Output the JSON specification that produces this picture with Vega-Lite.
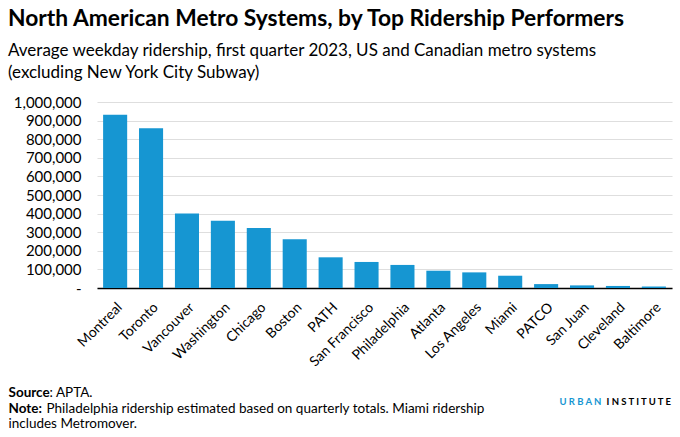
{
  "$schema": "https://vega.github.io/schema/vega-lite/v6.json",
  "padding": {"left": 8, "top": 8, "right": 8, "bottom": 4},
  "background": "white",
  "config": {
    "font": "Lato",
    "view": {"stroke": null},
    "title": {"font": "Lato", "subtitleFont": "Lato"}
  },
  "title": {
    "text": "North American Metro Systems, by Top Ridership Performers",
    "subtitle": ["Average weekday ridership, first quarter 2023, US and Canadian metro systems", "(excluding New York City Subway)"],
    "anchor": "start",
    "fontSize": 22.8,
    "fontWeight": "bold",
    "color": "#000000",
    "subtitleFontSize": 17,
    "subtitleColor": "#000000",
    "subtitleLineHeight": 22,
    "subtitlePadding": 12,
    "offset": 14
  },
  "vconcat": [
    {
      "width": 575,
      "height": 186,
      "data": {"values": [
        {"system": "Montreal", "ridership": 932000},
        {"system": "Toronto", "ridership": 859000},
        {"system": "Vancouver", "ridership": 401000},
        {"system": "Washington", "ridership": 362000},
        {"system": "Chicago", "ridership": 323000},
        {"system": "Boston", "ridership": 262000},
        {"system": "PATH", "ridership": 165000},
        {"system": "San Francisco", "ridership": 140000},
        {"system": "Philadelphia", "ridership": 124000},
        {"system": "Atlanta", "ridership": 93000},
        {"system": "Los Angeles", "ridership": 84000},
        {"system": "Miami", "ridership": 66000},
        {"system": "PATCO", "ridership": 21000},
        {"system": "San Juan", "ridership": 14000},
        {"system": "Cleveland", "ridership": 11000},
        {"system": "Baltimore", "ridership": 8000}
      ]},
      "mark": {"type": "bar", "color": "#1696d2"},
      "encoding": {
        "x": {
          "field": "system", "type": "nominal", "sort": null, "title": null,
          "scale": {"paddingInner": 0.33, "paddingOuter": 0.17},
          "axis": {"labelAngle": -45, "labelFontSize": 14, "labelColor": "#000000", "ticks": false, "domainColor": "#000000", "domainWidth": 1.5, "labelPadding": 12}
        },
        "y": {
          "field": "ridership", "type": "quantitative", "title": null,
          "scale": {"domain": [0, 1000000]},
          "axis": {"values": [0,100000,200000,300000,400000,500000,600000,700000,800000,900000,1000000], "labelExpr": "datum.value === 0 ? '-' : format(datum.value, ',')", "labelFontSize": 15, "labelColor": "#000000", "ticks": false, "domain": false, "gridColor": "#dedede", "gridWidth": 1.2, "labelPadding": 16, "minExtent": 89}
        }
      }
    },
    {
      "width": 1,
      "height": 31,
      "data": {"values": [
        {"line": 1, "part": "bold", "text": "Source"},
        {"line": 2, "part": "bold", "text": "Note:"},
        {"line": 1, "part": "rest1", "text": ": APTA."},
        {"line": 2, "part": "rest2", "text": "Philadelphia ridership estimated based on quarterly totals. Miami ridership"},
        {"line": 3, "part": "rest3", "text": "includes Metromover."},
        {"line": 1, "part": "urban", "text": "U R B A N"},
        {"line": 1, "part": "institute", "text": "I N S T I T U T E"}
      ]},
      "encoding": {
        "y": {"field": "line", "type": "ordinal", "axis": null, "scale": {"type": "point", "padding": 0}},
        "text": {"field": "text"}
      },
      "layer": [
        {"transform": [{"filter": "datum.part === 'bold'"}], "mark": {"type": "text", "align": "left", "fontSize": 13.5, "fontWeight": "bold", "color": "#000000", "dx": -89}},
        {"transform": [{"filter": "datum.part === 'rest1'"}], "mark": {"type": "text", "align": "left", "fontSize": 13.5, "color": "#000000", "dx": -48}},
        {"transform": [{"filter": "datum.part === 'rest2'"}], "mark": {"type": "text", "align": "left", "fontSize": 13.5, "color": "#000000", "dx": -51}},
        {"transform": [{"filter": "datum.part === 'rest3'"}], "mark": {"type": "text", "align": "left", "fontSize": 13.5, "color": "#000000", "dx": -89}},
        {"transform": [{"filter": "datum.part === 'urban'"}], "mark": {"type": "text", "align": "left", "fontSize": 9.5, "fontWeight": "bold", "color": "#1696d2", "dx": 462, "dy": 9}},
        {"transform": [{"filter": "datum.part === 'institute'"}], "mark": {"type": "text", "align": "left", "fontSize": 9.5, "fontWeight": "bold", "color": "#000000", "dx": 509, "dy": 9}}
      ]
    }
  ],
  "spacing": 17
}
